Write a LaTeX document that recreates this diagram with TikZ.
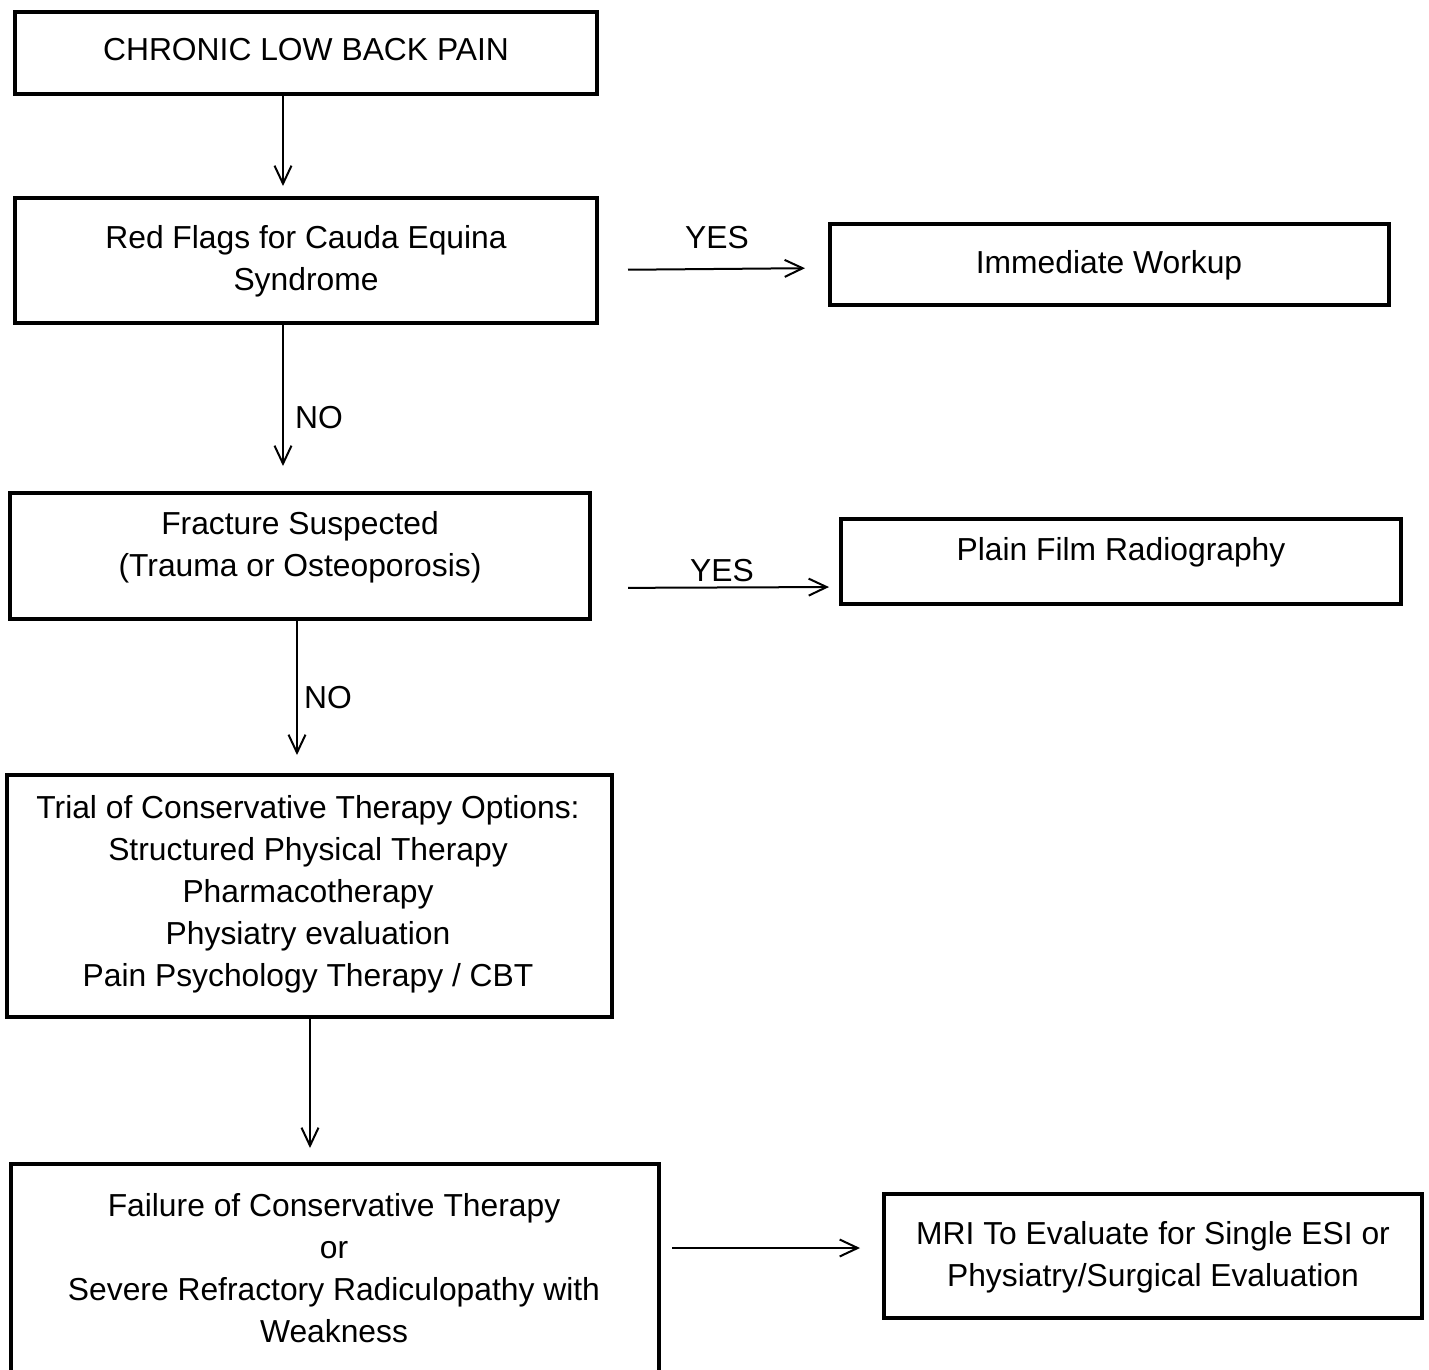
\documentclass[tikz,border=0pt]{standalone}
\usepackage{fontspec}
\setmainfont{Liberation Sans}
\usetikzlibrary{arrows.meta}
\begin{document}
\begin{tikzpicture}[x=0.5pt,y=-0.5pt,
  box/.style={draw=black, line width=2pt, rectangle, inner sep=0pt},
  txt/.style={align=center, font=\fontsize{15.9}{21}\selectfont, inner sep=0pt},
  arr/.style={-{Straight Barb[length=9pt,width=8.5pt]}, line width=1pt}]
\useasboundingbox (0,0) rectangle (1429,1370);
% boxes
\node[box, minimum width=291pt, minimum height=41pt] (b1) at (306,53) {};
\node[box, minimum width=291pt, minimum height=62.5pt] (b2) at (306,260.5) {};
\node[box, minimum width=279.5pt, minimum height=40.5pt] (b3) at (1109.5,264.5) {};
\node[box, minimum width=290pt, minimum height=63pt] (b4) at (300,556) {};
\node[box, minimum width=280pt, minimum height=42.5pt] (b5) at (1121,561.5) {};
\node[box, minimum width=302.5pt, minimum height=121pt] (b6) at (309.5,896) {};
\node[box, minimum width=324pt, minimum height=108pt] (b7) at (335,1272) {};
\node[box, minimum width=269pt, minimum height=62pt] (b8) at (1153,1256) {};
% texts
\node[txt] (t1) at (306,50) {CHRONIC LOW BACK PAIN};
\node[txt] (t2) at (306,261) {Red Flags for Cauda Equina\\Syndrome};
\node[txt] (t3) at (1109,265) {Immediate Workup};
\node[txt] (t4) at (300,547) {Fracture Suspected\\(Trauma or Osteoporosis)};
\node[txt] (t5) at (1121,552) {Plain Film Radiography};
\node[txt] (t6) at (308,894) {Trial of Conservative Therapy Options:\\Structured Physical Therapy\\Pharmacotherapy\\Physiatry evaluation\\Pain Psychology Therapy / CBT};
\node[txt] (t7) at (334,1268) {Failure of Conservative Therapy\\or\\Severe Refractory Radiculopathy with\\Weakness};
\node[txt] (t8) at (1153,1257) {MRI To Evaluate for Single ESI or\\Physiatry/Surgical Evaluation};
% labels
\node[txt] (yes1) at (717,238) {YES};
\node[txt] (yes2) at (722,571) {YES};
\node[txt] (no1) at (319,418) {NO};
\node[txt] (no2) at (328,698) {NO};
% helper coordinates
\coordinate (x1) at (283,0);
\coordinate (x2) at (283,0);
\coordinate (x3) at (297,0);
\coordinate (x4) at (310,0);
\coordinate (ya) at (0,270);
\coordinate (yb) at (0,268);
\coordinate (yc) at (0,588);
\coordinate (yd) at (0,587);
\coordinate (ye) at (0,1248);
% connectors
\draw[arr, shorten >=5pt] (b1.south -| x1) -- (b2.north -| x1);
\draw[arr, shorten <=14.5pt, shorten >=11.5pt] (b2.east |- ya) -- (b3.west |- yb);
\draw[arr, shorten >=12.5pt] (b2.south -| x2) -- (b4.north -| x2);
\draw[arr, shorten <=18pt, shorten >=5pt] (b4.east |- yc) -- (b5.west |- yd);
\draw[arr, shorten >=9pt] (b4.south -| x3) -- (b6.north -| x3);
\draw[arr, shorten >=7pt] (b6.south -| x4) -- (b7.north -| x4);
\draw[arr, shorten <=5.5pt, shorten >=11pt] (b7.east |- ye) -- (b8.west |- ye);
\end{tikzpicture}
\end{document}
